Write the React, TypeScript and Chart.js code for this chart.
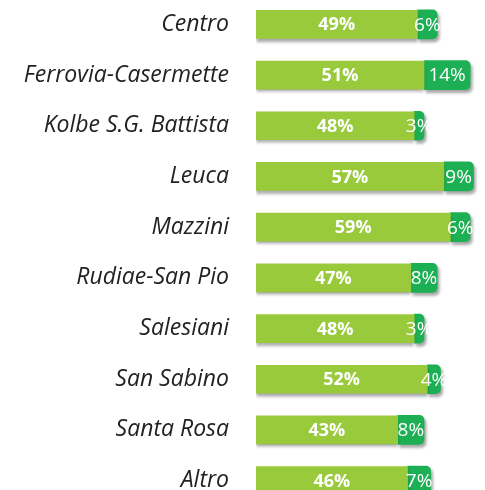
import React, { useEffect, useRef } from "react";
import { Chart, registerables } from "chart.js";

Chart.register(...registerables);

const categories = [
  "Centro",
  "Ferrovia-Casermette",
  "Kolbe S.G. Battista",
  "Leuca",
  "Mazzini",
  "Rudiae-San Pio",
  "Salesiani",
  "San Sabino",
  "Santa Rosa",
  "Altro",
];
const mainValues = [49, 51, 48, 57, 59, 47, 48, 52, 43, 46];
const extraValues = [6, 14, 3, 9, 6, 8, 3, 4, 8, 7];

const LIGHT = "#99CA3C";
const DARK = "#1DAF54";
const FONT = "'Open Sans', Lato, sans-serif";

const shadowPlugin = {
  id: "barShadow",
  beforeDatasetDraw(chart: any, args: any) {
    const ctx = chart.ctx;
    ctx.save();
    ctx.shadowColor = "rgba(0,0,0,0.35)";
    ctx.shadowBlur = 3;
    ctx.shadowOffsetX = args.index === 1 ? 2 : 0;
    ctx.shadowOffsetY = 3;
  },
  afterDatasetDraw(chart: any) {
    chart.ctx.restore();
  },
};

const labelPlugin = {
  id: "barLabels",
  afterDatasetsDraw(chart: any) {
    const ctx = chart.ctx;
    ctx.save();
    ctx.fillStyle = "#ffffff";
    ctx.textAlign = "center";
    ctx.textBaseline = "middle";
    chart.data.datasets.forEach((ds: any, di: number) => {
      const meta = chart.getDatasetMeta(di);
      meta.data.forEach((bar: any, i: number) => {
        const v = ds.data[i];
        const cx = (bar.x + bar.base) / 2;
        ctx.font = di === 0 ? `bold 18px ${FONT}` : `19px ${FONT}`;
        ctx.fillText(v + "%", cx, bar.y + 1);
      });
    });
    ctx.restore();
  },
};

export default function App() {
  const ref = useRef<HTMLCanvasElement | null>(null);
  useEffect(() => {
    if (!ref.current) return;
    const chart = new Chart(ref.current, {
      type: "bar",
      data: {
        labels: categories,
        datasets: [
          {
            data: mainValues,
            backgroundColor: LIGHT,
            barThickness: 28,
            borderSkipped: false,
            borderRadius: 0,
          },
          {
            data: extraValues,
            backgroundColor: DARK,
            barThickness: 29,
            borderSkipped: false,
            borderRadius: { topLeft: 0, bottomLeft: 0, topRight: 5, bottomRight: 5 },
          },
        ],
      },
      options: {
        indexAxis: "y",
        animation: false,
        responsive: false,
        layout: { padding: 0 },
        plugins: {
          legend: { display: false },
          tooltip: { enabled: false },
          title: { display: false },
        },
        scales: {
          x: {
            stacked: true,
            min: 0,
            max: 69.5,
            display: false,
          },
          y: {
            stacked: true,
            grid: { display: false, drawTicks: false },
            border: { display: false },
            ticks: {
              color: "#222222",
              padding: 27,
              font: { family: FONT, size: 23, style: "italic" },
            },
            afterFit(scale: any) {
              scale.width = 256;
              scale.paddingTop = 0;
              scale.paddingBottom = 0;
            },
          },
        },
      },
      plugins: [shadowPlugin, labelPlugin],
    });
    return () => chart.destroy();
  }, []);
  return (
    <div style={{ position: "absolute", top: -1, left: 0, width: 485, height: 507 }}>
      <canvas ref={ref} width={485} height={507} style={{ display: "block" }} />
    </div>
  );
}
